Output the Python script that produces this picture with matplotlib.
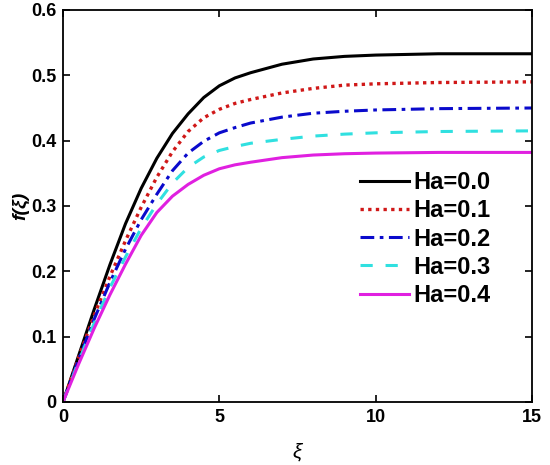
import matplotlib.pyplot as plt

xi = [0, 0.5, 1, 1.5, 2, 2.5, 3, 3.5, 4, 4.5, 5, 5.5, 6, 7, 8, 9, 10, 12, 15]

# f(xi) for each Hartmann number
f_ha00 = [0, 0.071, 0.142, 0.210, 0.273, 0.327, 0.373, 0.411, 0.441, 0.466, 0.484, 0.496, 0.504,
          0.517, 0.525, 0.529, 0.531, 0.533, 0.533]
f_ha01 = [0, 0.068, 0.133, 0.192, 0.247, 0.298, 0.344, 0.383, 0.414, 0.435, 0.448, 0.457, 0.463,
          0.473, 0.480, 0.485, 0.487, 0.489, 0.490]
f_ha02 = [0, 0.065, 0.127, 0.183, 0.234, 0.279, 0.318, 0.354, 0.381, 0.399, 0.412, 0.420, 0.427,
          0.436, 0.442, 0.445, 0.447, 0.449, 0.450]
f_ha03 = [0, 0.062, 0.121, 0.175, 0.222, 0.266, 0.303, 0.335, 0.359, 0.375, 0.385, 0.391, 0.396,
          0.402, 0.407, 0.410, 0.412, 0.414, 0.415]
f_ha04 = [0, 0.058, 0.113, 0.164, 0.211, 0.255, 0.290, 0.315, 0.333, 0.347, 0.357, 0.363, 0.367,
          0.374, 0.378, 0.380, 0.381, 0.382, 0.382]

labels = ['Ha=0.0', 'Ha=0.1', 'Ha=0.2', 'Ha=0.3', 'Ha=0.4']

plt.rcParams['font.family'] = ['Liberation Sans', 'DejaVu Sans']

fig = plt.figure(figsize=(5.5, 4.65), dpi=100)
ax = fig.add_axes([0.1145, 0.1355, 0.853, 0.843])

ax.plot(xi, f_ha00, color='black', linestyle='-', linewidth=2.2, label=labels[0])
ax.plot(xi, f_ha01, color='#d01818', linestyle=':', linewidth=2.4, label=labels[1],
        dashes=(1, 1.3))
ax.plot(xi, f_ha02, color='#0a0acc', linestyle='-.', linewidth=2.2, label=labels[2],
        dashes=(4.5, 1.8, 1.2, 1.8))
ax.plot(xi, f_ha03, color='#30e0e0', linestyle='--', linewidth=2.2, label=labels[3],
        dashes=(4, 4.2))
ax.plot(xi, f_ha04, color='#e020e0', linestyle='-', linewidth=2.2, label=labels[4])

ax.set_xlim(0, 15)
ax.set_ylim(0, 0.6)
ax.set_xticks([0, 5, 10, 15])
ax.set_xticklabels(['0', '5', '10', '15'])
ax.set_yticks([0, 0.1, 0.2, 0.3, 0.4, 0.5, 0.6])
ax.set_yticklabels(['0', '0.1', '0.2', '0.3', '0.4', '0.5', '0.6'])
ax.tick_params(direction='in', top=True, right=True, length=5, width=1.2,
               labelsize=13, pad=5)
for lab in ax.get_xticklabels() + ax.get_yticklabels():
    lab.set_fontweight('bold')
for sp in ax.spines.values():
    sp.set_linewidth(1.3)

ax.set_xlabel('ξ', fontsize=15, fontstyle='italic', labelpad=12)
ax.set_ylabel('f(ξ)', fontsize=14, fontstyle='italic', fontweight='bold', labelpad=1)

leg = ax.legend(loc='upper left', bbox_to_anchor=(0.612, 0.613), frameon=False,
                prop={'size': 17, 'weight': 'bold'}, handlelength=2.1,
                handletextpad=0.2, labelspacing=0.22, borderaxespad=0)

fig.savefig('out.png', dpi=100)
